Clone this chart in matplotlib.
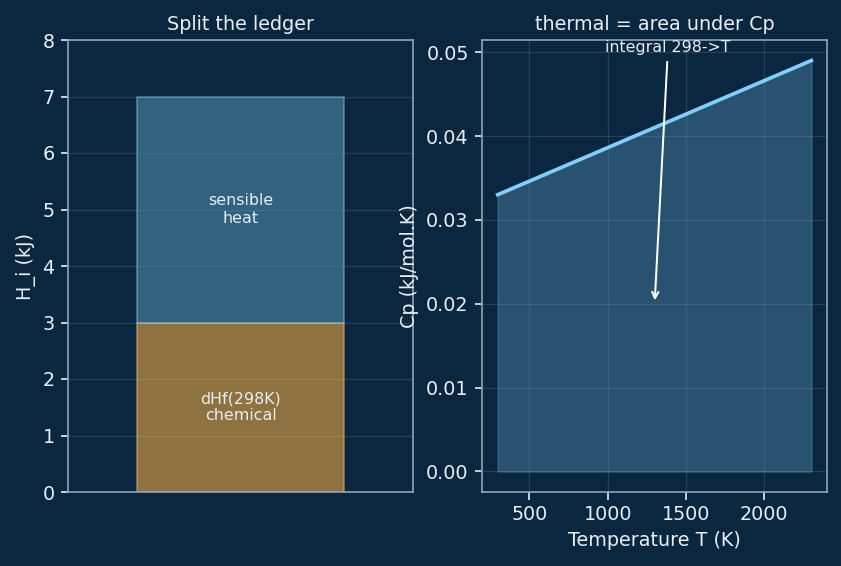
import matplotlib
matplotlib.use("Agg")
import matplotlib.pyplot as plt
import numpy as np

# data
bar_labels = ["dHf(298K)\nchemical", "sensible\nheat"]
bar_values = [3.0, 4.0]
T_vals = [298, 2300]
Cp_vals = [0.033, 0.049]
annot_text = "integral 298->T"

BG = "#0b263f"
FG = "#e8eef5"
SPINE = "#8fa5bb"

plt.rcParams["font.family"] = ["DejaVu Sans"]

DPI = 120
W, H = 841, 566
fig = plt.figure(figsize=(W / DPI, H / DPI), dpi=DPI, facecolor=BG)
ax1 = fig.add_axes([68 / W, (H - 492) / H, 345 / W, 452 / H])
ax2 = fig.add_axes([482 / W, (H - 492) / H, 345 / W, 452 / H])

for ax in (ax1, ax2):
    ax.set_facecolor(BG)
    for s in ax.spines.values():
        s.set_color(SPINE)
        s.set_linewidth(1.0)
    ax.tick_params(colors=FG, labelsize=11.5, length=4.5, width=1.0)
    ax.grid(True, color="#c8d6e5", alpha=0.15, linewidth=0.7)
    ax.set_axisbelow(True)

# left: stacked bar
ax1.bar([0], [bar_values[0]], width=0.6, color="#fbb444", alpha=0.55,
        edgecolor="#f5c070", linewidth=0.9)
ax1.bar([0], [bar_values[1]], bottom=[bar_values[0]], width=0.6,
        color="#5496b2", alpha=0.55, edgecolor="#8fc3e6", linewidth=0.9)
ax1.text(0, bar_values[0] / 2, bar_labels[0], ha="center", va="center",
         color=FG, fontsize=9.5)
ax1.text(0, bar_values[0] + bar_values[1] / 2, bar_labels[1], ha="center",
         va="center", color=FG, fontsize=9.5)
ax1.set_xlim(-0.5, 0.5)
ax1.set_ylim(0, 8)
ax1.set_xticks([])
ax1.set_ylabel("H_i (kJ)", color=FG, fontsize=11.5)
ax1.set_title("Split the ledger", color=FG, fontsize=11.5)

# right: Cp line
T = np.array(T_vals, dtype=float)
Cp = np.array(Cp_vals)
ax2.fill_between(T, 0, Cp, color="#5695b8", alpha=0.4, linewidth=1.0)
ax2.plot(T, Cp, color="#7fd0ff", linewidth=2.2)
ax2.set_xlabel("Temperature T (K)", color=FG, fontsize=11.5)
ax2.set_ylabel("Cp (kJ/mol.K)", color=FG, fontsize=11.5)
ax2.set_title("thermal = area under Cp", color=FG, fontsize=11.5)
ax2.annotate(annot_text, xy=(1300, 0.02), xytext=(1385, 0.05),
             ha="center", color=FG, fontsize=9.5,
             arrowprops=dict(arrowstyle="->", color="white", lw=1.2))

fig.savefig("out.png", dpi=DPI, facecolor=BG)
